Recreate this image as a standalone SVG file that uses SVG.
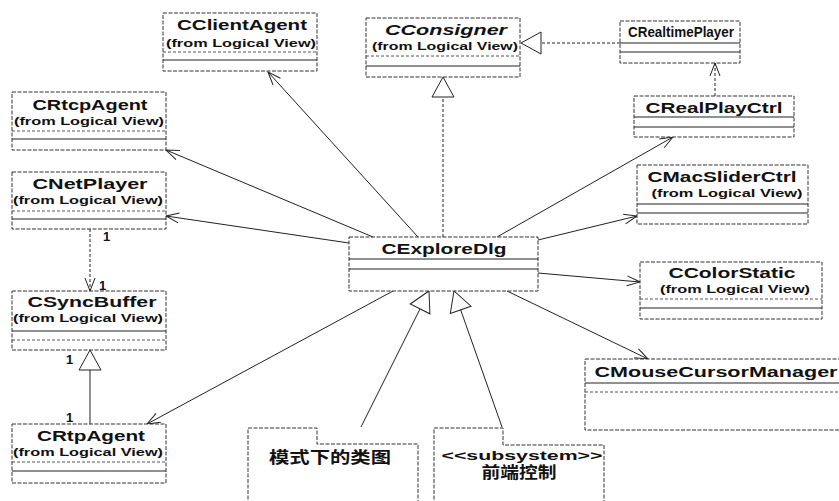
<svg xmlns="http://www.w3.org/2000/svg" width="839" height="501" viewBox="0 0 839 501">
<style>
.box{fill:#fff;stroke:#333;stroke-width:1;stroke-dasharray:4 1.5}
.sepd{stroke:#555;stroke-width:1;stroke-dasharray:3 2}
.seps{stroke:#222;stroke-width:1.2}
.t{font-family:"Liberation Sans",Arial,sans-serif;font-weight:bold;font-size:14px;fill:#111;text-anchor:middle}
.s{font-family:"Liberation Sans",Arial,sans-serif;font-weight:bold;font-size:10px;fill:#111;text-anchor:middle}
.i{font-style:italic}
.cjk{font-family:"Liberation Sans","Noto Sans CJK SC",sans-serif;font-weight:bold;font-size:16px;fill:#111;text-anchor:middle}
.m{font-family:"Liberation Sans",Arial,sans-serif;font-weight:bold;font-size:13px;fill:#111}
.c{fill:none;stroke:#222;stroke-width:1}
.dash{stroke-dasharray:3 2}
.pkg{fill:#fff;stroke:#333;stroke-width:1;stroke-dasharray:4 1.5}
</style>
<defs>
<marker id="open" markerUnits="userSpaceOnUse" markerWidth="14" markerHeight="12" refX="13" refY="5" orient="auto" overflow="visible">
<path d="M0,0 L13,5 L0,10" fill="none" stroke="#222" stroke-width="1"/>
</marker>
<marker id="tri" markerUnits="userSpaceOnUse" markerWidth="22" markerHeight="24" refX="20" refY="11" orient="auto" overflow="visible">
<path d="M0,0 L20,11 L0,22 Z" fill="#fff" stroke="#222" stroke-width="1"/>
</marker>
</defs>
<rect width="839" height="501" fill="#fff"/>

<g id="connectors">
<line class="c" x1="418" y1="237" x2="268" y2="72" marker-end="url(#open)"/>
<line class="c" x1="373" y1="237" x2="166" y2="150" marker-end="url(#open)"/>
<line class="c" x1="349" y1="243" x2="166" y2="216" marker-end="url(#open)"/>
<line class="c" x1="393" y1="291" x2="147" y2="424" marker-end="url(#open)"/>
<line class="c" x1="497" y1="237" x2="673" y2="137" marker-end="url(#open)"/>
<line class="c" x1="538" y1="240" x2="637" y2="216" marker-end="url(#open)"/>
<line class="c" x1="538" y1="273" x2="640" y2="282" marker-end="url(#open)"/>
<line class="c" x1="507" y1="291" x2="648" y2="359" marker-end="url(#open)"/>
<line class="c dash" x1="443" y1="237" x2="443" y2="77" marker-end="url(#tri)"/>
<line class="c dash" x1="620" y1="43" x2="521" y2="43" marker-end="url(#tri)"/>
<line class="c dash" x1="715" y1="96" x2="715" y2="63" marker-end="url(#open)"/>
<line class="c dash" x1="90" y1="229" x2="90" y2="291" marker-end="url(#open)"/>
<line class="c" x1="90" y1="424" x2="90" y2="350" marker-end="url(#tri)"/>
<line class="c" x1="361" y1="427" x2="429" y2="291" marker-end="url(#tri)"/>
<line class="c" x1="502" y1="427" x2="454" y2="291" marker-end="url(#tri)"/>
<text class="m" x="103" y="241">1</text>
<text class="m" x="99" y="290">1</text>
<text class="m" x="66" y="364">1</text>
<text class="m" x="66" y="422">1</text>
</g>

<g id="CClientAgent">
<rect class="box" x="163" y="13" width="154" height="58"/>
<line class="sepd" x1="163" y1="52" x2="317" y2="52"/>
<line class="seps" x1="163" y1="60" x2="317" y2="60"/>
<text class="t" x="242" y="30" textLength="130" lengthAdjust="spacingAndGlyphs">CClientAgent</text>
<text class="s" x="241" y="47" textLength="150" lengthAdjust="spacingAndGlyphs">(from Logical View)</text>
</g>

<g id="CRtcpAgent">
<rect class="box" x="12" y="92" width="154" height="58"/>
<line class="sepd" x1="12" y1="131" x2="166" y2="131"/>
<line class="seps" x1="12" y1="139" x2="166" y2="139"/>
<text class="t" x="90" y="110" textLength="115" lengthAdjust="spacingAndGlyphs">CRtcpAgent</text>
<text class="s" x="89" y="125" textLength="150" lengthAdjust="spacingAndGlyphs">(from Logical View)</text>
</g>

<g id="CConsigner">
<rect class="box" x="366" y="18" width="154" height="59"/>
<line class="sepd" x1="366" y1="56" x2="520" y2="56"/>
<line class="seps" x1="366" y1="66" x2="520" y2="66"/>
<text class="t i" x="446" y="35" textLength="122" lengthAdjust="spacingAndGlyphs">CConsigner</text>
<text class="s" x="445" y="50" textLength="146" lengthAdjust="spacingAndGlyphs">(from Logical View)</text>
</g>

<g id="CRealtimePlayer">
<rect class="box" x="620" y="21" width="120" height="42"/>
<line class="seps" x1="620" y1="43" x2="740" y2="43"/>
<line class="seps" x1="620" y1="52" x2="740" y2="52"/>
<text class="t" x="681" y="37" textLength="106" lengthAdjust="spacingAndGlyphs">CRealtimePlayer</text>
</g>

<g id="CRealPlayCtrl">
<rect class="box" x="634" y="96" width="160" height="41"/>
<line class="seps" x1="634" y1="117" x2="794" y2="117"/>
<line class="seps" x1="634" y1="127" x2="794" y2="127"/>
<text class="t" x="714" y="113" textLength="137" lengthAdjust="spacingAndGlyphs">CRealPlayCtrl</text>
</g>

<g id="CMacSliderCtrl">
<rect class="box" x="637" y="165" width="171" height="59"/>
<line class="seps" x1="637" y1="204" x2="808" y2="204"/>
<line class="seps" x1="637" y1="213" x2="808" y2="213"/>
<text class="t" x="722" y="182" textLength="149" lengthAdjust="spacingAndGlyphs">CMacSliderCtrl</text>
<text class="s" x="727" y="197" textLength="151" lengthAdjust="spacingAndGlyphs">(from Logical View)</text>
</g>

<g id="CColorStatic">
<rect class="box" x="640" y="262" width="182" height="57"/>
<line class="sepd" x1="640" y1="299" x2="822" y2="299"/>
<line class="seps" x1="640" y1="308" x2="822" y2="308"/>
<text class="t" x="732" y="278" textLength="127" lengthAdjust="spacingAndGlyphs">CColorStatic</text>
<text class="s" x="735" y="293" textLength="150" lengthAdjust="spacingAndGlyphs">(from Logical View)</text>
</g>

<g id="CMouseCursorManager">
<rect class="box" x="585" y="359" width="262" height="71"/>
<line class="seps" x1="585" y1="383" x2="839" y2="383"/>
<line class="sepd" x1="585" y1="392" x2="839" y2="392"/>
<text class="t" x="716" y="377" textLength="243" lengthAdjust="spacingAndGlyphs">CMouseCursorManager</text>
</g>

<g id="CExploreDlg">
<rect class="box" x="349" y="237" width="189" height="54"/>
<line class="seps" x1="349" y1="259" x2="538" y2="259"/>
<line class="seps" x1="349" y1="269" x2="538" y2="269"/>
<text class="t" x="444" y="254" textLength="125" lengthAdjust="spacingAndGlyphs">CExploreDlg</text>
</g>

<g id="CNetPlayer">
<rect class="box" x="12" y="172" width="154" height="57"/>
<line class="sepd" x1="12" y1="211" x2="166" y2="211"/>
<line class="seps" x1="12" y1="219" x2="166" y2="219"/>
<text class="t" x="90" y="189" textLength="115" lengthAdjust="spacingAndGlyphs">CNetPlayer</text>
<text class="s" x="88" y="204" textLength="150" lengthAdjust="spacingAndGlyphs">(from Logical View)</text>
</g>

<g id="CSyncBuffer">
<rect class="box" x="12" y="291" width="154" height="59"/>
<line class="seps" x1="12" y1="331" x2="166" y2="331"/>
<line class="sepd" x1="12" y1="340" x2="166" y2="340"/>
<text class="t" x="92" y="307" textLength="129" lengthAdjust="spacingAndGlyphs">CSyncBuffer</text>
<text class="s" x="88" y="322" textLength="150" lengthAdjust="spacingAndGlyphs">(from Logical View)</text>
</g>

<g id="CRtpAgent">
<rect class="box" x="12" y="424" width="154" height="59"/>
<line class="sepd" x1="12" y1="462" x2="166" y2="462"/>
<line class="seps" x1="12" y1="471" x2="166" y2="471"/>
<text class="t" x="91" y="441" textLength="108" lengthAdjust="spacingAndGlyphs">CRtpAgent</text>
<text class="s" x="88" y="456" textLength="150" lengthAdjust="spacingAndGlyphs">(from Logical View)</text>
</g>

<g id="pkg1">
<path class="pkg" d="M248,505 L248,428 L317,428 L317,444 L418,444 L418,505"/>
<text class="cjk" x="330" y="463" textLength="122" lengthAdjust="spacingAndGlyphs">模式下的类图</text>
</g>

<g id="pkg2">
<path class="pkg" d="M434,505 L434,428 L503,428 L503,445 L604,445 L604,505"/>
<text class="m" x="522" y="460" text-anchor="middle" textLength="161" lengthAdjust="spacingAndGlyphs">&lt;&lt;subsystem&gt;&gt;</text>
<text class="cjk" x="519" y="478" textLength="75" lengthAdjust="spacingAndGlyphs">前端控制</text>
</g>
</svg>
